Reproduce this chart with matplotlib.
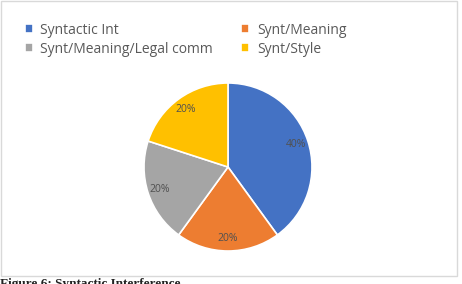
import matplotlib
matplotlib.use("Agg")
import matplotlib.pyplot as plt
from matplotlib.patches import Rectangle

# Slice data
categories = ["Syntactic Int", "Synt/Meaning", "Synt/Meaning/Legal comm", "Synt/Style"]
values = [40, 20, 20, 20]
colors = ["#4472C4", "#ED7D31", "#A5A5A5", "#FFC000"]

W, H = 462, 284
fig = plt.figure(figsize=(W / 100, H / 100), dpi=100)

# Light chart border
fig.add_artist(Rectangle((1 / W, 1 - 276 / H), 456 / W, 275 / H,
                         transform=fig.transFigure, fill=False,
                         edgecolor="#d9d9d9", linewidth=1.0))

# Pie centered at (228, 167) px with radius ~84 px
r = 84
ax = fig.add_axes([(228 - r) / W, 1 - (167 + r) / H, 2 * r / W, 2 * r / H])
wedges, texts, autotexts = ax.pie(
    values, colors=colors, startangle=90, counterclock=False,
    autopct="%d%%", pctdistance=0.85,
    wedgeprops=dict(edgecolor="white", linewidth=1.2),
    textprops=dict(color="#505050", fontsize=7.5, family="Open Sans"),
)
ax.set_xlim(-1, 1)
ax.set_ylim(-1, 1)
ax.set_aspect("equal")

# Legend, row-major order
order = [0, 2, 1, 3]
fig.legend([wedges[i] for i in order], [categories[i] for i in order],
           ncol=2, loc="upper left", bbox_to_anchor=(12 / W, 1 - 10 / H),
           frameon=False, handlelength=0.6, handleheight=0.6,
           handletextpad=0.55, columnspacing=2.0, labelspacing=0.3,
           prop=dict(family="Open Sans", size=10), labelcolor="#595959")

# Caption, cut off at the bottom edge
fig.text(0.0, 1 - 278 / H, "Figure 6: Syntactic Interference", ha="left", va="top",
         fontsize=9.5, fontweight="bold", family="Liberation Serif", color="#222222")

fig.savefig("out.png", dpi=100)
